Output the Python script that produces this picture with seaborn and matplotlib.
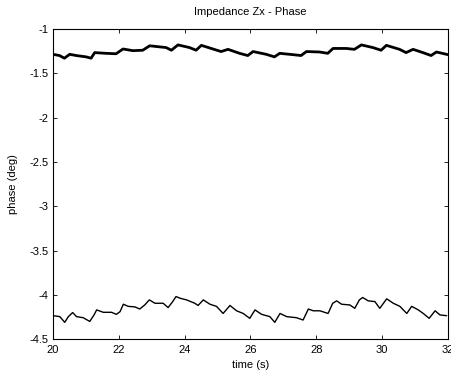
import pandas as pd
import matplotlib
matplotlib.use('Agg')
import matplotlib.pyplot as plt
import seaborn as sns

# readings: upper trace (thick) and lower trace (thin)
t_upper = [20.00, 20.20, 20.35, 20.51, 20.71, 21.01, 21.16, 21.27, 21.62, 21.92,
           22.13, 22.43, 22.73, 22.94, 23.44, 23.60, 23.80, 24.15, 24.35, 24.51,
           24.86, 25.11, 25.32, 25.67, 25.92, 26.08, 26.48, 26.73, 26.89, 27.29,
           27.54, 27.70, 28.10, 28.35, 28.51, 28.91, 29.16, 29.37, 29.72, 29.97,
           30.13, 30.53, 30.73, 30.94, 31.24, 31.49, 31.65, 32.00]
phase_upper = [-1.286, -1.30, -1.33, -1.286, -1.30, -1.315, -1.33, -1.267, -1.275, -1.28,
               -1.226, -1.245, -1.24, -1.19, -1.21, -1.24, -1.18, -1.21, -1.24, -1.185,
               -1.226, -1.255, -1.23, -1.275, -1.30, -1.255, -1.286, -1.315, -1.275, -1.29,
               -1.30, -1.255, -1.26, -1.275, -1.22, -1.22, -1.23, -1.18, -1.21, -1.24,
               -1.185, -1.23, -1.267, -1.23, -1.267, -1.30, -1.26, -1.29]

t_lower = [20.01, 20.21, 20.36, 20.47, 20.60, 20.72, 20.92, 21.12, 21.25, 21.33,
           21.53, 21.78, 21.93, 22.04, 22.14, 22.29, 22.49, 22.64, 22.79, 22.93,
           23.10, 23.35, 23.50, 23.64, 23.74, 23.86, 24.06, 24.31, 24.41, 24.57,
           24.77, 24.97, 25.17, 25.38, 25.58, 25.78, 25.98, 26.14, 26.34, 26.59,
           26.74, 26.90, 27.10, 27.40, 27.60, 27.76, 27.91, 28.11, 28.36, 28.50,
           28.62, 28.77, 29.02, 29.17, 29.31, 29.41, 29.58, 29.78, 29.93, 30.14,
           30.34, 30.54, 30.75, 30.90, 31.10, 31.25, 31.43, 31.61, 31.76, 31.96]
phase_lower = [-4.235, -4.246, -4.31, -4.246, -4.20, -4.246, -4.258, -4.30, -4.227, -4.17,
               -4.197, -4.197, -4.22, -4.19, -4.106, -4.13, -4.136, -4.16, -4.114, -4.057,
               -4.095, -4.095, -4.144, -4.076, -4.019, -4.038, -4.057, -4.095, -4.12, -4.057,
               -4.106, -4.13, -4.21, -4.12, -4.18, -4.21, -4.265, -4.17, -4.22, -4.246,
               -4.31, -4.21, -4.246, -4.258, -4.284, -4.16, -4.18, -4.18, -4.21, -4.095,
               -4.068, -4.106, -4.114, -4.152, -4.057, -4.03, -4.068, -4.076, -4.152, -4.045,
               -4.095, -4.13, -4.21, -4.13, -4.17, -4.21, -4.265, -4.18, -4.227, -4.235]

x_ticks = [20, 22, 24, 26, 28, 30, 32]
y_ticks = [-1, -1.5, -2, -2.5, -3, -3.5, -4, -4.5]
y_labels = ['-1', '-1.5', '-2', '-2.5', '-3', '-3.5', '-4', '-4.5']

df_upper = pd.DataFrame({'time': t_upper, 'phase': phase_upper})
df_lower = pd.DataFrame({'time': t_lower, 'phase': phase_lower})

sns.set_style('ticks', {'xtick.direction': 'in', 'ytick.direction': 'in',
                        'axes.edgecolor': 'black', 'text.color': 'black',
                        'axes.labelcolor': 'black', 'xtick.color': 'black',
                        'ytick.color': 'black'})
plt.rcParams['font.family'] = ['Liberation Sans', 'DejaVu Sans']

fig = plt.figure(figsize=(4.52, 3.76), dpi=100)
ax = fig.add_axes([0.117, 0.098, 0.874, 0.825])

sns.lineplot(x='time', y='phase', data=df_upper, ax=ax, color='black', linewidth=2.0)
sns.lineplot(x='time', y='phase', data=df_lower, ax=ax, color='black', linewidth=1.0)

ax.set_xlim(20, 32)
ax.set_ylim(-4.5, -1)
ax.set_xticks(x_ticks)
ax.set_yticks(y_ticks)
ax.set_yticklabels(y_labels)
ax.tick_params(axis='both', labelsize=8, length=3, width=0.6, top=True, right=True,
               colors='black')
ax.tick_params(axis='x', pad=4)
ax.tick_params(axis='y', pad=3)
for s in ax.spines.values():
    s.set_visible(True)
    s.set_linewidth(0.8)
    s.set_color('black')
ax.set_title('Impedance Zx - Phase', fontsize=8, pad=10, color='black')
ax.set_xlabel('time (s)', fontsize=8, labelpad=4, color='black')
ax.set_ylabel('phase (deg)', fontsize=8, labelpad=8, color='black')

fig.savefig('out.png', dpi=100)
